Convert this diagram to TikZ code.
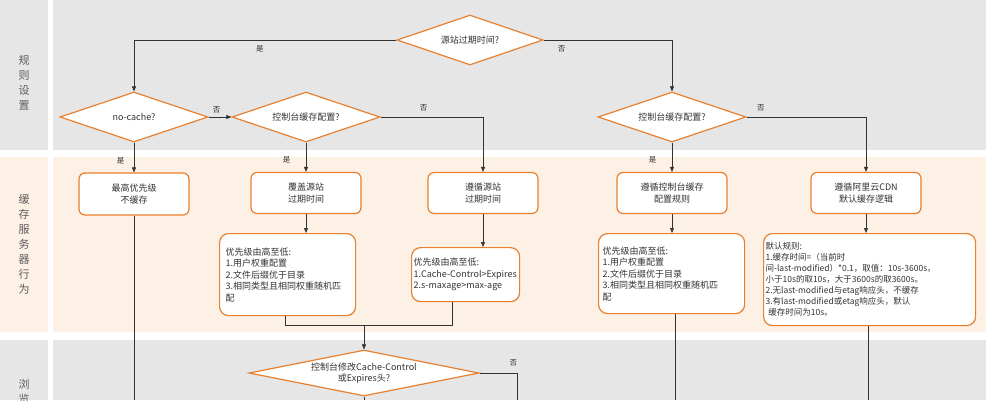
\documentclass[tikz,border=0pt]{standalone}
\usepackage{fontspec}
\setmainfont{Noto Sans CJK SC}
\usetikzlibrary{shapes.geometric,arrows.meta}
\definecolor{og}{HTML}{E8802F}
\definecolor{gb}{HTML}{E6E6E6}
\definecolor{pb}{HTML}{FDF0E5}
\definecolor{tx}{HTML}{333333}
\tikzset{
 dec/.style={diamond,draw=og,line width=1.2pt,fill=white,aspect=2.9,inner sep=0pt,font=\fontsize{9}{11}\selectfont,text=tx,align=center},
 bx/.style={draw=og,line width=1.2pt,fill=white,rounded corners=6pt,font=\fontsize{9}{11.5}\selectfont,text=tx,align=center,inner sep=0pt},
 tb/.style={draw=og,line width=1.2pt,fill=white,rounded corners=9pt,font=\fontsize{9}{11.5}\selectfont,text=tx,align=left,inner sep=2pt,anchor=north west},
 ar/.style={draw=black!80,line width=0.6pt,-{Triangle[length=5pt,width=4pt]}},
 ln/.style={draw=black!80,line width=0.6pt},
 lb/.style={font=\fontsize{7.5}{9}\selectfont,text=tx},
 lane/.style={font=\fontsize{11}{15}\selectfont,text=tx!80,align=center}
}
\begin{document}
\begin{tikzpicture}[x=1pt,y=-1pt]
\useasboundingbox (0,0) rectangle (986,400);
\fill[white] (0,0) rectangle (986,400);
\fill[gb] (0,0) rectangle (48,150);
\fill[gb] (53,0) rectangle (986,150);
\fill[pb] (0,157) rectangle (48,332);
\fill[pb] (53,157) rectangle (986,332);
\fill[gb] (0,340) rectangle (48,400);
\fill[gb] (53,340) rectangle (986,400);
\node[lane] (l1) at (24,83) {规\\则\\设\\置};
\node[lane] (l2) at (24,244) {缓\\存\\服\\务\\器\\行\\为};
\node[lane,anchor=north] (l3) at (24,376) {浏\\览};

\node[dec,minimum width=146pt,minimum height=50pt] (d1) at (470,40) {源站过期时间?};
\node[dec,minimum width=148pt,minimum height=50pt] (d2) at (134,117) {no-cache?};
\node[dec,minimum width=148pt,minimum height=50pt] (d3) at (306,117) {控制台缓存配置?};
\node[dec,minimum width=148pt,minimum height=50pt] (d4) at (672,117) {控制台缓存配置?};
\node[bx,minimum width=110pt,minimum height=42pt] (b1) at (134,194) {最高优先级\\不缓存};
\node[bx,minimum width=110pt,minimum height=41pt] (b2) at (306,193) {覆盖源站\\过期时间};
\node[bx,minimum width=110pt,minimum height=41pt] (b3) at (483,193) {遵循源站\\过期时间};
\node[bx,minimum width=110pt,minimum height=41pt] (b4) at (672,193) {遵循控制台缓存\\配置规则};
\node[bx,minimum width=110pt,minimum height=41pt] (b5) at (866,193) {遵循阿里云CDN\\默认缓存逻辑};
\node[tb,minimum width=136pt,minimum height=82pt,text width=124pt,inner xsep=6pt,inner ysep=5pt] (t1) at (219,233) {优先级由高至低:\\1.用户权重配置\\2.文件后缀优于目录\\3.相同类型且相同权重随机匹\\配};
\node[tb,minimum width=108pt,minimum height=54pt,text width=104pt] (t2) at (411,247) {优先级由高至低:\\1.Cache-Control>Expires\\2.s-maxage>max-age};
\node[tb,minimum width=146pt,minimum height=80pt,text width=138pt,inner xsep=4pt,inner ysep=5pt] (t3) at (598,233) {优先级由高至低:\\1.用户权重配置\\2.文件后缀优于目录\\3.相同类型且相同权重随机匹\\配};
\node[tb,minimum width=212pt,minimum height=92pt,text width=208pt,font=\fontsize{8.5}{11}\selectfont] (t4) at (763,233) {默认规则:\\1.缓存时间=（当前时\\间-last-modified）*0.1，取值：10s-3600s，\\小于10s的取10s，大于3600s的取3600s。\\2.无last-modified与etag响应头，不缓存\\3.有last-modified或etag响应头，默认\\\ 缓存时间为10s。};
\node[dec,minimum width=230pt,minimum height=46pt,aspect=5] (d5) at (364,373) {控制台修改Cache-Control\\或Expires头?};

\coordinate (e1) at (134,400);
\coordinate (e2) at (675,400);
\coordinate (e3) at (868,400);
\coordinate (e4) at (517,400);
\coordinate (e5) at (364,400);
\coordinate (m) at (364,325);

\draw[ar] (d1.west) -| node[lb,pos=0.26,below=2pt]{是} (d2.north);
\draw[ar] (d1.east) -| node[lb,pos=0.07,below=2pt]{否} (d4.north);
\draw[ar] (d2.east) -- node[lb,above,pos=0.35]{否} (d3.west);
\draw[ar] (d3.east) -| node[lb,pos=0.21,above=2pt]{否} (b3.north);
\draw[ar] (d4.east) -| node[lb,pos=0.06,above=2pt]{否} (b5.north);
\draw[ar] (d2.south) -- node[lb,left=6pt,pos=0.6]{是} (b1.north);
\draw[ar] (d3.south) -- node[lb,left=12pt,pos=0.6]{是} (b2.north);
\draw[ar] (d4.south) -- node[lb,left=12pt,pos=0.6]{是} (b4.north);
\draw[ln] (b1.south) -- (e1);
\draw[ar] (b2.south) -- (b2.south |- t1.north);
\draw[ar] (b3.south) -- (b3.south |- t2.north);
\draw[ar] (b4.south) -- (b4.south |- t3.north);
\draw[ar] (b5.south) -- (b5.south |- t4.north);
\draw[ln] (t1.south -| 285,0) -- (285,325) -- (452,325) -- (t2.south -| 452,0);
\draw[ar] (m) -- (d5.north);
\draw[ln] (t3.south -| e2) -- (e2);
\draw[ln] (t4.south -| e3) -- (e3);
\draw[ln] (d5.east) -- node[lb,above=3pt,pos=0.9]{否} (517,373) -- (e4);
\draw[ln] (d5.south) -- (e5);
\end{tikzpicture}
\end{document}
